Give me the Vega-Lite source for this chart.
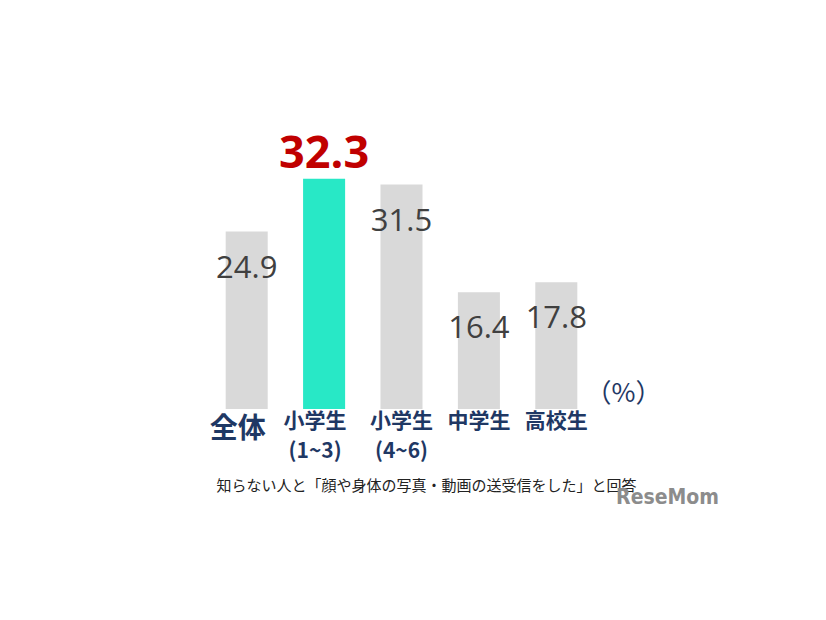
{
  "$schema": "https://vega.github.io/schema/vega-lite/v6.json",
  "autosize": "none",
  "width": 387,
  "height": 285,
  "padding": {"left": 208, "top": 124, "right": 231, "bottom": 211},
  "background": "white",
  "config": {"view": {"stroke": null}},
  "title": {
    "text": "ReseMom",
    "orient": "bottom",
    "anchor": "end",
    "frame": "group",
    "dx": 124,
    "dy": -10,
    "font": "Liberation Sans Narrow, DejaVu Sans Condensed, sans-serif",
    "fontSize": 21,
    "fontWeight": "bold",
    "color": "#8c8c8c",
    "baseline": "top"
  },
  "data": {
    "values": [
      {"group": "全体", "value": 24.9},
      {"group": "小学生\n(1~3)", "value": 32.3},
      {"group": "小学生\n(4~6)", "value": 31.5},
      {"group": "中学生", "value": 16.4},
      {"group": "高校生", "value": 17.8}
    ]
  },
  "encoding": {
    "x": {
      "field": "group",
      "type": "nominal",
      "sort": null,
      "scale": {"paddingInner": 0.457, "paddingOuter": 0.2285},
      "axis": {
        "labelExpr": "split(datum.label, '\\n')",
        "labelAngle": 0,
        "ticks": false,
        "domain": false,
        "labelColor": "#1f3864",
        "labelFont": "Noto Sans CJK JP",
        "labelFontWeight": "bold",
        "labelFontSize": {"condition": {"test": "datum.value == '全体'", "value": 28}, "value": 21},
        "labelPadding": {"condition": {"test": "datum.value == '全体'", "value": 6}, "value": 1},
        "labelOffset": {"condition": {"test": "datum.value == '全体' || datum.value == '小学生\\n(1~3)'", "value": -9}, "value": 0},
        "labelBaseline": "top",
        "labelLineHeight": 30,
        "labelOverlap": false,
        "labelLimit": 0,
        "title": "知らない人と「顔や身体の写真・動画の送受信をした」と回答",
        "titleX": 218,
        "titleY": 76,
        "titleAlign": "center",
        "titleBaseline": "middle",
        "titleFont": "Noto Sans CJK JP",
        "titleFontSize": 15,
        "titleFontWeight": "normal",
        "titleColor": "#222222"
      }
    },
    "y": {
      "field": "value",
      "type": "quantitative",
      "scale": {"domain": [0, 40]},
      "axis": {
        "orient": "right",
        "labels": false,
        "ticks": false,
        "domain": false,
        "grid": false,
        "title": "（%）",
        "titleAngle": 0,
        "titleX": 28,
        "titleY": 269,
        "titleAlign": "center",
        "titleBaseline": "middle",
        "titleFont": "Noto Sans CJK JP",
        "titleFontSize": 26,
        "titleFontWeight": "normal",
        "titleColor": "#1f3864"
      }
    }
  },
  "layer": [
    {
      "mark": {"type": "bar"},
      "encoding": {
        "color": {
          "condition": {"test": "datum.group == '小学生\\n(1~3)'", "value": "#28e8c6"},
          "value": "#d9d9d9"
        }
      }
    },
    {
      "transform": [{"filter": "datum.group != '小学生\\n(1~3)'"}],
      "mark": {"type": "text", "baseline": "alphabetic", "dy": 46, "font": "Open Sans", "fontSize": 31, "color": "#404040"},
      "encoding": {"text": {"field": "value", "type": "quantitative", "format": ".1f"}}
    },
    {
      "transform": [{"filter": "datum.group == '小学生\\n(1~3)'"}],
      "mark": {"type": "text", "baseline": "alphabetic", "dy": -11, "font": "Open Sans", "fontSize": 45, "fontWeight": "bold", "color": "#c00000"},
      "encoding": {"text": {"field": "value", "type": "quantitative", "format": ".1f"}}
    }
  ]
}
